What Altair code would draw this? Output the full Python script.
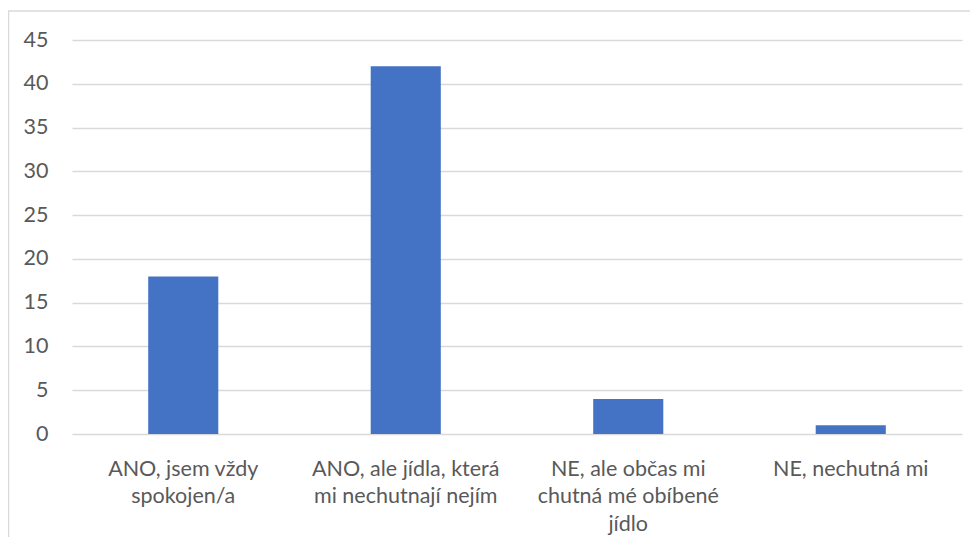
import altair as alt
import pandas as pd

categories = [
    "ANO, jsem vždy spokojen/a",
    "ANO, ale jídla, která mi nechutnají nejím",
    "NE, ale občas mi chutná mé obíbené jídlo",
    "NE, nechutná mi",
]
label_lines = [
    ["ANO, jsem vždy", "spokojen/a"],
    ["ANO, ale jídla, která", "mi nechutnají nejím"],
    ["NE, ale občas mi", "chutná mé obíbené", "jídlo"],
    ["NE, nechutná mi"],
]
values = [18, 42, 4, 1]
y_ticks = list(range(0, 50, 5))

df = pd.DataFrame({"cat": categories, "val": values})

expr = "''"
for c, lines in reversed(list(zip(categories, label_lines))):
    arr = "[" + ",".join("'" + l + "'" for l in lines) + "]"
    expr = f"datum.value == '{c}' ? {arr} : ({expr})"

font = "Lato"
grey = "#595959"

bars = alt.Chart(df).mark_bar(color="#4472C4").encode(
    x=alt.X("cat:N", sort=categories, title=None,
            scale=alt.Scale(paddingInner=0.685, paddingOuter=0.3425),
            axis=alt.Axis(labelExpr=expr, labelAngle=0, labelFont=font,
                          labelFontSize=21.5, labelColor=grey, labelPadding=41,
                          labelLineHeight=27.5, labelLimit=0, ticks=False,
                          domain=False, grid=False, labelBaseline="alphabetic")),
    y=alt.Y("val:Q", title=None,
            scale=alt.Scale(domain=[0, 45], nice=False),
            axis=alt.Axis(values=y_ticks, labelFont=font, labelFontSize=21.5,
                          labelColor=grey, labelPadding=24, ticks=False,
                          domain=False, grid=True, gridColor="#D9D9D9",
                          gridWidth=1.3)),
)

border = alt.Chart(df).mark_rect(fill=None, stroke="#D9D9D9", strokeWidth=1.5).encode(
    x=alt.value(-63.5), x2=alt.value(950), y=alt.value(-29), y2=alt.value(700)
).transform_filter("datum.val == 18")

chart = alt.layer(border, bars).properties(
    width=890, height=394,
    autosize=alt.AutoSizeParams(type="none"),
    padding={"left": 64, "top": 32, "right": 8, "bottom": 103},
).configure(background="white").configure_view(strokeWidth=0, stroke="transparent")

chart.save("out.html", embed_options={"renderer": "svg", "actions": False})
